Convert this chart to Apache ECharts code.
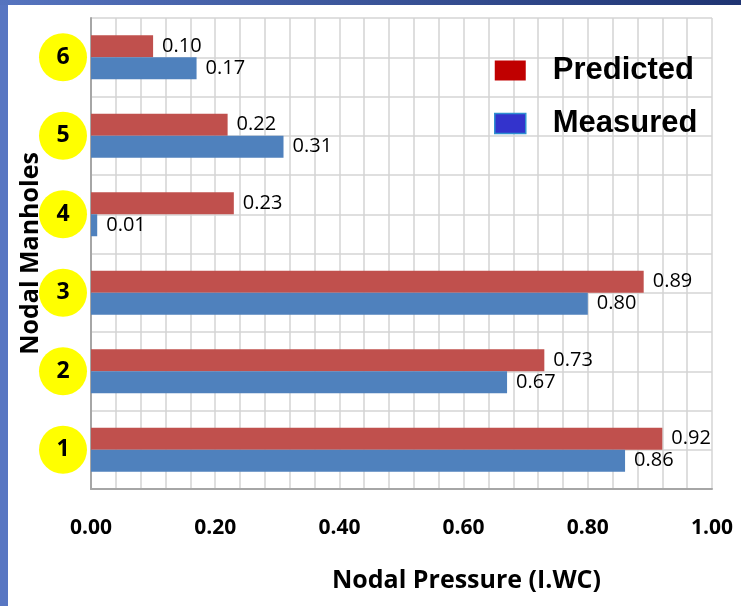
<!DOCTYPE html>
<html>
<head>
<meta charset="utf-8">
<script src="https://cdn.jsdelivr.net/npm/echarts@6/dist/echarts.min.js"></script>
<style>
  html, body { margin: 0; padding: 0; background: #fff; }
  #chart { width: 741px; height: 606px; }
</style>
</head>
<body>
<div id="chart"></div>
<script>
  'use strict';

  // manholes, bottom to top
  var manholes = ['1', '2', '3', '4', '5', '6'];
  var predicted = [0.92, 0.73, 0.89, 0.23, 0.22, 0.10];
  var measured = [0.86, 0.67, 0.80, 0.01, 0.31, 0.17];
  var xTicks = [0, 0.2, 0.4, 0.6, 0.8, 1.0];

  var myChart = echarts.init(document.getElementById('chart'));

  var gridColor = '#d4d4d4';

  var option = {
    backgroundColor: '#fff',
    animation: false,
    textStyle: { fontFamily: 'Open Sans' },
    graphic: [
      { type: 'rect', shape: { x: 0, y: 0, width: 8, height: 606 }, style: { fill: '#5876c2' } },
      {
        type: 'rect', shape: { x: 0, y: 0, width: 741, height: 5 },
        style: {
          fill: new echarts.graphic.LinearGradient(0, 0, 1, 0, [
            { offset: 0, color: '#5674bf' },
            { offset: 1, color: '#1f3472' }
          ])
        }
      }
    ],
    legend: {
      orient: 'vertical',
      left: 494,
      top: 55,
      padding: 0,
      itemWidth: 31,
      itemHeight: 20,
      itemGap: 22,
      icon: 'rect',
      textStyle: {
        fontFamily: 'Liberation Sans',
        fontWeight: 'bold',
        fontSize: 31,
        color: '#000',
        padding: [0, 0, 0, 22]
      },
      data: [
        { name: 'Predicted', itemStyle: { color: '#c00000' } },
        { name: 'Measured', itemStyle: { color: '#3333cc', borderColor: '#2f8fd0', borderWidth: 1.5 } }
      ]
    },
    grid: {
      left: 91,
      right: 29,
      top: 18,
      bottom: 117,
      outerBoundsMode: 'none'
    },
    xAxis: {
      type: 'value',
      min: xTicks[0],
      max: xTicks[xTicks.length - 1],
      interval: 0.2,
      name: 'Nodal Pressure (I.WC)',
      nameLocation: 'middle',
      nameGap: 79,
      nameMoveOverlap: false,
      // title sits right of the plot centre in the original
      nameTextStyle: { fontWeight: 'bold', fontSize: 25, color: '#000', padding: [0, 0, 0, 130] },
      axisLine: { show: true, lineStyle: { color: '#a6a6a6', width: 2 } },
      axisTick: { show: false },
      axisLabel: {
        margin: 29,
        fontWeight: 'bold',
        fontSize: 21,
        color: '#000',
        formatter: function(v) { return v.toFixed(2); }
      },
      splitLine: { show: true, lineStyle: { color: gridColor, width: 1.5 } },
      minorTick: { show: false, splitNumber: 5 },
      minorSplitLine: { show: true, lineStyle: { color: gridColor, width: 1.5 } }
    },
    yAxis: [{
      type: 'category',
      data: manholes,
      name: 'Nodal Manholes',
      nameLocation: 'middle',
      nameGap: 48,
      nameMoveOverlap: false,
      nameRotate: 90,
      nameTextStyle: { fontWeight: 'bold', fontSize: 25, color: '#000' },
      axisLine: { show: true, lineStyle: { color: '#a6a6a6', width: 2 } },
      axisTick: { show: false },
      splitLine: { show: false },
      axisLabel: {
        margin: 4,
        formatter: function(v) { return '{c|' + v + '}'; },
        rich: {
          c: {
            backgroundColor: '#ffff00',
            borderRadius: 24,
            width: 48,
            height: 48,
            lineHeight: 48,
            align: 'center',
            fontSize: 23,
            fontWeight: 'bold',
            color: '#000'
          }
        }
      }
    }, {
      // only for the horizontal grid lines (bands and centres)
      type: 'value',
      min: 0,
      max: 12,
      interval: 1,
      position: 'right',
      axisLine: { show: false },
      axisTick: { show: false },
      axisLabel: { show: false },
      splitLine: { show: true, lineStyle: { color: gridColor, width: 1.5 } }
    }],
    series: [{
      name: 'Predicted',
      type: 'bar',
      yAxisIndex: 0,
      barWidth: 22,
      barGap: '0%',
      itemStyle: { color: '#c0504d' },
      label: {
        show: true,
        position: 'right',
        distance: 9,
        fontSize: 20,
        color: '#000',
        formatter: function(p) { return p.value.toFixed(2); }
      },
      data: predicted
    }, {
      name: 'Measured',
      type: 'bar',
      yAxisIndex: 0,
      barWidth: 22,
      barGap: '0%',
      itemStyle: { color: '#4f81bd' },
      label: {
        show: true,
        position: 'right',
        distance: 9,
        fontSize: 20,
        color: '#000',
        formatter: function(p) { return p.value.toFixed(2); }
      },
      data: measured
    }]
  };

  myChart.setOption(option);
</script>
</body>
</html>
